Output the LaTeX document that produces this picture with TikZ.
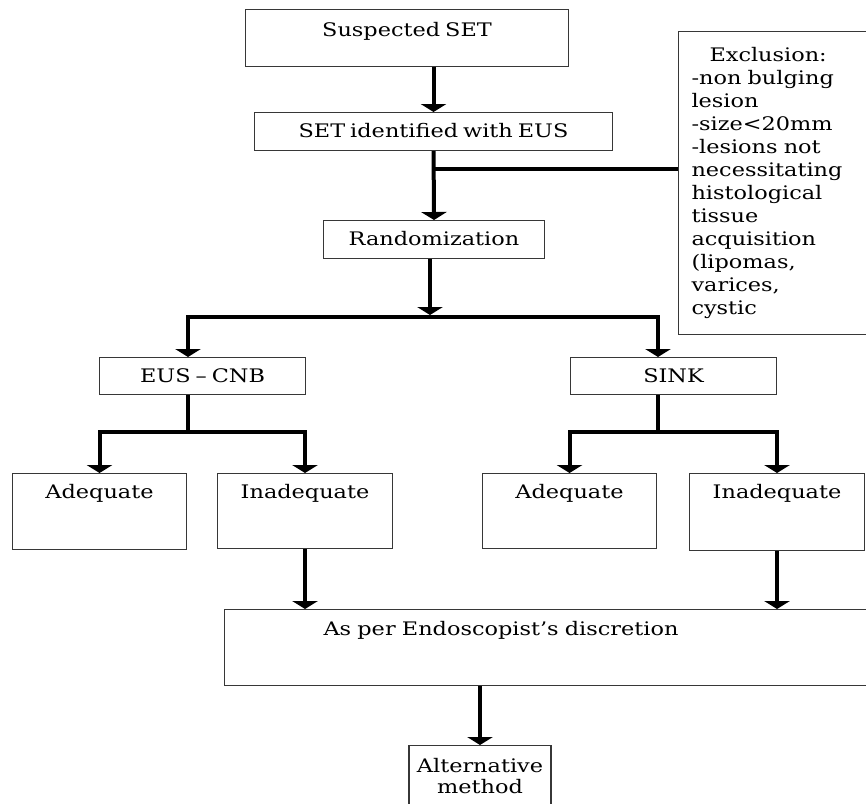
\documentclass[tikz,border=0pt]{standalone}
\usepackage{fontspec}
\setmainfont{DejaVu Serif}[FakeStretch=1.2,WordSpace=0.7]
\usetikzlibrary{arrows.meta}
\definecolor{rahmen}{RGB}{55,55,55}

\begin{document}
\begin{tikzpicture}[x=0.75pt,y=-0.75pt,>={Triangle[width=19pt,length=6pt]},
    box/.style={draw=rahmen,line width=0.8pt,inner sep=0pt,anchor=north west,
      font=\fontsize{14}{17.25}\selectfont},
    conn/.style={line width=3pt}]
  \useasboundingbox (0,0) rectangle (866,803);
  % boxes
  \node[box,minimum width=242.25pt,text height=20.25pt,text depth=22.5pt] (susp) at (245,9) {Suspected SET};
  \node[box,minimum width=268.5pt,text height=18.75pt,text depth=9.75pt] (seteus) at (254,112) {SET identified with EUS};
  \node[box,minimum width=165.75pt,text height=18.75pt,text depth=9.75pt] (rand) at (323,220) {Randomization};
  \node[box,text width=187.5pt,inner xsep=9.75pt,minimum height=227.25pt,align=left] (excl) at (678,31)
    {\hspace*{13.5pt}Exclusion:\\-non bulging\\lesion\\-size<20mm\\-lesions not\\necessitating\\histological\\tissue\\acquisition\\(lipomas,\\varices,\\cystic};
  \node[box,minimum width=154.5pt,text height=18.75pt,text depth=9pt] (cnb) at (99,357) {EUS – CNB};
  \node[box,minimum width=154.5pt,text height=18.75pt,text depth=9pt] (sink) at (570,357) {SINK};
  \node[box,minimum width=130.5pt,text height=18.75pt,text depth=38.25pt] (adq1) at (12,473) {Adequate};
  \node[box,minimum width=131.25pt,text height=18.75pt,text depth=37.5pt] (inadq1) at (217,473) {Inadequate};
  \node[box,minimum width=130.5pt,text height=18.75pt,text depth=37.5pt] (adq2) at (482,473) {Adequate};
  \node[box,minimum width=131.25pt,text height=18.75pt,text depth=39pt] (inadq2) at (689,473) {Inadequate};
  \node[box,text width=525pt,align=left,text height=19.5pt,text depth=37.5pt] (disc) at (224,609)
    {\hspace*{74.25pt}As per Endoscopist’s discretion};
  \node[box,anchor=north,minimum width=106.5pt,inner ysep=9.75pt,align=center,
    font=\fontsize{14}{15.75}\selectfont] (alt) at (480,745) {Alternative\\method};
  % junctions
  \coordinate (xj) at (433,169);
  \coordinate (fork) at (430,317);
  \coordinate (cnbfork) at (188,432);
  \coordinate (sinkfork) at (658,432);
  % connectors
  \draw[conn,->] (seteus.north |- susp.south) -- (seteus.north);
  \draw[conn,->] (seteus.south) -- (rand.north);
  \draw[conn] (xj) -- (xj -| excl.west);
  \draw[conn,->] (fork |- rand.south) -- ([yshift=1.5pt]fork);
  \draw[conn,->] (fork) -| (cnbfork |- cnb.north);
  \draw[conn,->] (fork) -| (sinkfork |- sink.north);
  \draw[conn] (cnbfork |- cnb.south) -- (cnbfork);
  \draw[conn,->] (cnbfork) -| (adq1.north);
  \draw[conn,->] (cnbfork) -| (inadq1.north);
  \draw[conn] (sinkfork |- sink.south) -- (sinkfork);
  \draw[conn,->] (sinkfork) -| (adq2.north);
  \draw[conn,->] (sinkfork) -| (inadq2.north);
  \draw[conn,->] (inadq1.south) -- (inadq1.south |- disc.north);
  \draw[conn,->] (inadq2.south) -- (inadq2.south |- disc.north);
  \draw[conn,->] (alt.north |- disc.south) -- (alt.north);
\end{tikzpicture}
\end{document}
